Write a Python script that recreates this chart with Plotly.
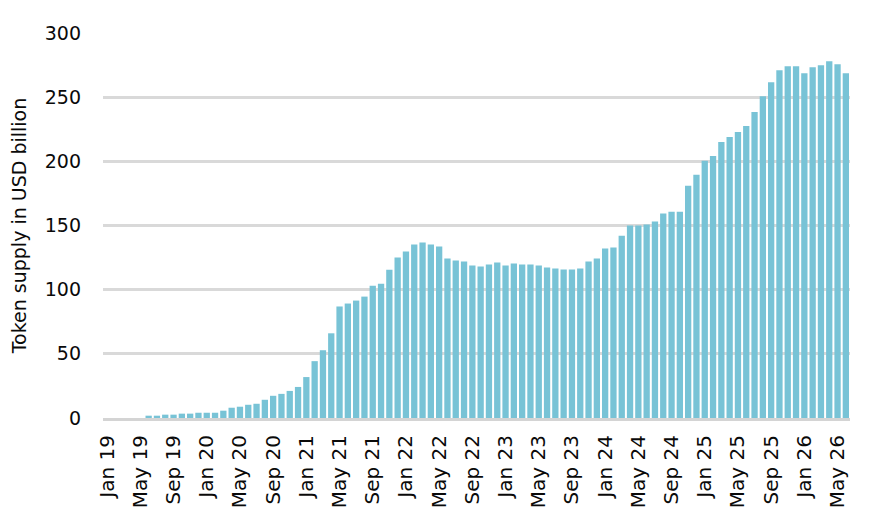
import pandas as pd
import plotly.graph_objects as go

# monthly categories Jan 2019 - Jun 2026
months = pd.date_range("2019-01-01", "2026-06-01", freq="MS").strftime("%b %y").tolist()

supply = [
    0, 0, 0, 0, 0, 1.8, 1.8, 2.6, 2.6, 3.4, 3.4, 4.1,
    4.1, 4.1, 5.7, 8.0, 8.8, 10.3, 11.1, 14.2, 17.3, 18.8, 21.1, 24.2,
    31.9, 44.3, 52.8, 66.0, 86.9, 89.2, 91.5, 94.6, 103.1, 104.6, 115.6, 125.0,
    129.7, 135.1, 136.7, 135.1, 133.6, 124.3, 122.7, 122.0, 118.9, 118.1, 119.6, 121.2,
    118.9, 120.4, 119.6, 119.6, 118.9, 117.3, 116.5, 115.8, 115.8, 116.5, 122.0, 124.3,
    132.0, 132.8, 142.1, 150.0, 150.0, 150.7, 153.1, 159.3, 160.8, 160.8, 181.0, 189.5,
    200.4, 204.2, 215.1, 219.0, 222.9, 227.5, 238.4, 250.8, 261.6, 270.9, 274.0, 274.0,
    268.6, 273.3, 274.8, 277.9, 275.6, 268.6,
]

tick_labels = months[::4]

fig = go.Figure(go.Bar(x=months, y=supply, marker=dict(color="#78C3D6", line=dict(width=0))))

# page body adds 8px, so the figure is a bit smaller than the window
fig.update_layout(
    width=875, height=512,
    margin=dict(l=95, r=33, t=25, b=102),
    plot_bgcolor="white", paper_bgcolor="white",
    bargap=0.24,
    showlegend=False,
    font=dict(family="DejaVu Sans", size=19, color="#0a0a0a"),
)
fig.update_xaxes(
    type="category", tickvals=tick_labels, ticktext=tick_labels,
    tickangle=-90, tickfont=dict(size=20),
    showgrid=False, showline=True, linecolor="#d4d4d4", linewidth=3,
    ticks="", ticklabelstandoff=6, automargin=False,
)
fig.update_yaxes(
    range=[0, 300], dtick=50, showgrid=True, gridcolor="#d9d9d9", gridwidth=2.5,
    zeroline=False, ticks="", ticklabelstandoff=21, automargin=False,
    title=dict(text="Token supply in USD billion", font=dict(size=19), standoff=14),
)

fig.write_html("out.html")
